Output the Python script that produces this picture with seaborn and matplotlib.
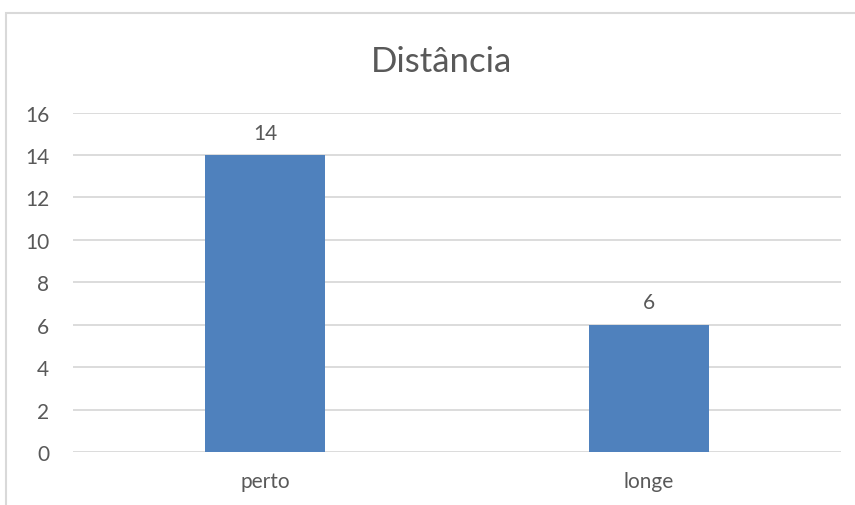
import matplotlib
matplotlib.use("Agg")
import matplotlib.pyplot as plt
from matplotlib.patches import Rectangle
import seaborn as sns
import pandas as pd

# ── Data ──────────────────────────────────────────────
categories = ["perto", "longe"]
values     = [14, 6]
y_ticks    = [0, 2, 4, 6, 8, 10, 12, 14, 16]
title      = "Distância"

BAR_COLOR  = "#4F81BD"
TEXT_COLOR = "#595959"
GRID_COLOR = "#D9D9D9"

sns.set_theme(style="white")
plt.rcParams["font.family"] = ["Lato", "DejaVu Sans"]

df = pd.DataFrame({"cat": categories, "val": values})

fig = plt.figure(figsize=(8.55, 5.06), dpi=100)
ax = fig.add_axes([73 / 855, 53 / 506, 768 / 855, 339.4 / 506])

sns.barplot(data=df, x="cat", y="val", color=BAR_COLOR, width=0.3125,
            saturation=1, linewidth=0, ax=ax, zorder=3)

ax.set_xlim(-0.5, 1.5)
ax.set_ylim(0, 16)
ax.set_yticks(y_ticks)
ax.yaxis.grid(True, color=GRID_COLOR, lw=1.3, zorder=0)
ax.set_axisbelow(True)
for s in ax.spines.values():
    s.set_visible(False)

ax.tick_params(axis="y", length=0, pad=17, labelsize=15, labelcolor=TEXT_COLOR)
ax.tick_params(axis="x", length=0, pad=14, labelsize=15, labelcolor=TEXT_COLOR)
ax.set_xlabel("")
ax.set_ylabel("")

for c in ax.containers:
    ax.bar_label(c, fmt="%d", padding=9, fontsize=15, color=TEXT_COLOR)

fig.text(441 / 855, 1 - 62 / 506, title, ha="center", va="center",
         fontsize=25, color=TEXT_COLOR)

# chart frame, cut off at right and bottom like the reference
fig.patches.append(Rectangle((6 / 855, -0.1), 1.2, 1.1 - 14 / 506,
                             transform=fig.transFigure, fill=False,
                             edgecolor=GRID_COLOR, lw=1.5))

fig.savefig("out.png", dpi=100, facecolor="white")
